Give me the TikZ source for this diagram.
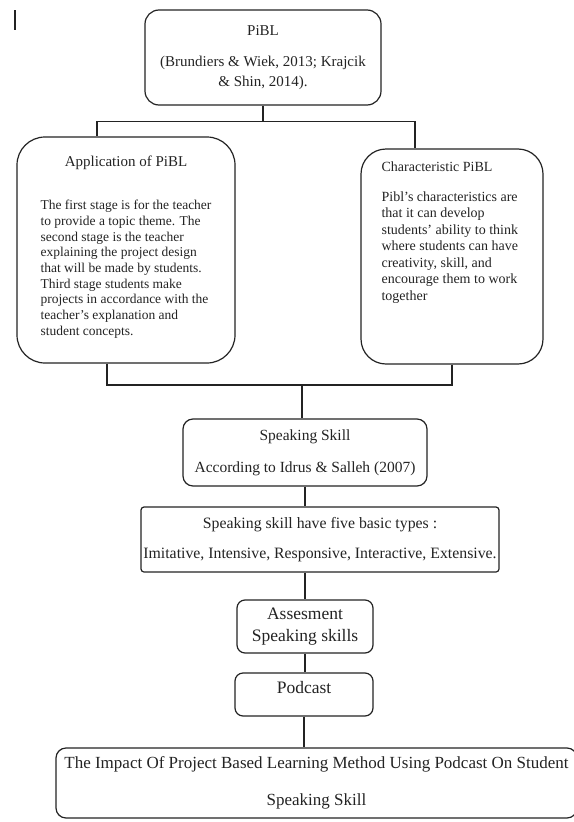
\documentclass[tikz,border=0pt]{standalone}
\usepackage{fontspec}
\setmainfont{Liberation Serif}
\usetikzlibrary{positioning}
\definecolor{flowInk}{RGB}{35,35,35}

\begin{document}
\begin{tikzpicture}[x=1pt, y=-1pt, line width=1.2pt, draw=flowInk,
    flowbox/.style={draw=flowInk, text=flowInk, align=center, inner sep=0pt},
    flowtext/.style={text=flowInk, inner sep=0pt}]
  \useasboundingbox (0,0) rectangle (573,822);
  % cursor mark
  \draw[flowInk] (15,10) -- (15,30);

  % PiBL
  \node[flowbox, rounded corners=14pt, minimum width=236pt, minimum height=95pt,
        font=\fontsize{15}{20}\selectfont] (pibl) at (263,57.5)
        {PiBL\\[11pt](Brundiers \& Wiek, 2013; Krajcik\\\& Shin, 2014).};

  % application of PiBL
  \node[flowbox, rounded corners=28pt, minimum width=218pt, minimum height=226pt] (appBox) at (126,250) {};
  \node[flowtext, anchor=base, font=\fontsize{15}{18}\selectfont] (appTitle) at (126,166.5) {Application of PiBL};
  \node[flowtext, anchor=north, align=left, font=\fontsize{13.5}{15.7}\selectfont] (appBody) at (126,199.5)
    {The first stage is for the teacher\\to provide a topic theme. The\\second stage is the teacher\\explaining the project design\\that will be made by students.\\Third stage students make\\projects in accordance with the\\teacher's explanation and\\student concepts.};

  % characteristic PiBL
  \node[flowbox, rounded corners=25pt, minimum width=182pt, minimum height=215pt] (charBox) at (452,256.5) {};
  \node[flowtext, anchor=north west, align=left, font=\fontsize{14}{16.5}\selectfont] (charText) at (381,161)
    {Characteristic PiBL\\[13.5pt]Pibl's characteristics are\\that it can develop\\students' ability to think\\where students can have\\creativity, skill, and\\encourage them to work\\together};

  % speaking skill
  \node[flowbox, rounded corners=10pt, minimum width=244pt, minimum height=67pt,
        font=\fontsize{15.5}{18}\selectfont] (speak) at (305,452.5)
        {Speaking Skill\\[14pt]According to Idrus \& Salleh (2007)};
  \node[flowbox, rounded corners=3pt, minimum width=358pt, minimum height=65pt,
        font=\fontsize{15.8}{18}\selectfont] (types) at (320,539.5)
        {Speaking skill have five basic types :\\[12pt]Imitative, Intensive, Responsive, Interactive, Extensive.};
  \node[flowbox, rounded corners=8pt, minimum width=136pt, minimum height=53pt,
        font=\fontsize{17.5}{22}\selectfont] (assess) at (305,626.5) {Assesment\\Speaking skills};
  \node[flowbox, rounded corners=8pt, minimum width=138pt, minimum height=43pt, text depth=14pt,
        font=\fontsize{17.5}{22}\selectfont] (pod) at (304,694.5) {Podcast};
  \node[flowbox, rounded corners=10pt, minimum width=521pt, minimum height=70pt,
        font=\fontsize{17}{20}\selectfont] (impact) at (316.5,783)
        {The Impact Of Project Based Learning Method Using Podcast On Student\\[17pt]Speaking Skill};

  % connectors
  \draw (pibl.south) -- ++(0,16) coordinate (topBar);
  \draw (topBar) -| ([xshift=-29pt]appBox.north);
  \draw (topBar) -| ([xshift=-37pt]charBox.north);
  \coordinate (midBar) at (302,385);
  \draw ([xshift=-19pt]appBox.south) |- (midBar);
  \draw (charBox.south) |- (midBar);
  \draw (midBar) -- (midBar |- speak.north);
  \draw (speak.south) -- (speak.south |- types.north);
  \draw (assess.north |- types.south) -- (assess.north);
  \draw (assess.south) -- (assess.south |- pod.north);
  \draw (pod.south) -- (pod.south |- impact.north);
\end{tikzpicture}
\end{document}
